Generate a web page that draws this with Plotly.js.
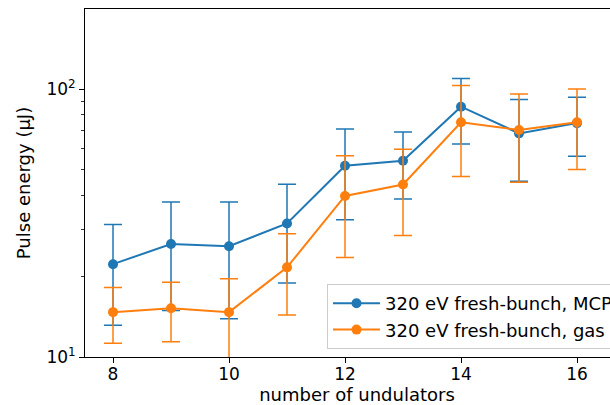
<!DOCTYPE html>
<html>
<head>
<meta charset="utf-8">
<script src="https://cdn.plot.ly/plotly-3.0.1.min.js"></script>
<style>
  html, body { margin: 0; padding: 0; overflow: hidden; background: #fff; }
  #chart { width: 700px; height: 405px; }
</style>
</head>
<body>
<div id="chart"></div>
<script>
// Undulator count on the x axis
const undulators = [8, 9, 10, 11, 12, 13, 14, 15, 16];

// Pulse energy (µJ) measured with the MCP, with its standard deviation
const mcpEnergy = [22.2, 26.4, 25.9, 31.5, 51.7, 54.0, 85.9, 68.3, 74.6];
const mcpError  = [9.05, 11.5, 12.0, 12.6, 19.2, 15.1, 23.5, 23.0, 18.5];

// Pulse energy (µJ) measured with the gas detector, with its standard deviation
const gasEnergy = [14.7, 15.2, 14.7, 21.6, 39.9, 44.0, 75.1, 70.3, 75.1];
const gasError  = [3.45, 3.8, 4.9, 7.25, 16.4, 15.6, 27.9, 25.4, 25.0];

const seriesNames = ['320 eV fresh-bunch, MCP', '320 eV fresh-bunch, gas'];
const xTickVals = [8, 10, 12, 14, 16];
const yTickVals = [10, 100];
const yTickText = ['10<sup>1</sup>', '10<sup>2</sup>'];
const yMinorVals = [20, 30, 40, 50, 60, 70, 80, 90, 200];

const blue = '#1f77b4';
const orange = '#ff7f0e';

function series(x, y, err, name, color) {
  return {
    x: x, y: y, name: name, type: 'scatter', mode: 'lines+markers',
    line: { color: color, width: 2 },
    marker: { color: color, size: 10 },
    error_y: { type: 'data', array: err, visible: true, color: color, thickness: 1.5, width: 9 }
  };
}

const data = [
  series(undulators, mcpEnergy, mcpError, seriesNames[0], blue),
  series(undulators, gasEnergy, gasError, seriesNames[1], orange)
];

const figW = 700, figH = 405;
const padL = 85, padT = 9, plotW = 544, plotH = 348;
const pxPerUnit = 58;
const fontBase = { family: 'DejaVu Sans, sans-serif', size: 18, color: '#000' };
const tickFont = { family: 'DejaVu Sans, sans-serif', size: 17, color: '#000' };

const layout = {
  width: figW, height: figH,
  margin: { l: padL, r: figW - padL - plotW, t: padT, b: figH - padT - plotH },
  paper_bgcolor: '#fff', plot_bgcolor: '#fff',
  font: fontBase,
  showlegend: true,
  xaxis: {
    range: [7.517, 7.517 + plotW / pxPerUnit],
    tickmode: 'array', tickvals: xTickVals, tickfont: tickFont,
    ticks: 'outside', ticklen: 5, tickwidth: 1, tickcolor: '#000',
    ticklabelstandoff: -3,
    showline: true, linecolor: '#000', linewidth: 1, mirror: true,
    showgrid: false, zeroline: false, automargin: false,
    title: { text: 'number of undulators', font: fontBase, standoff: 3 }
  },
  yaxis: {
    type: 'log',
    range: [1, 2.2985],
    tickmode: 'array', tickvals: yTickVals, ticktext: yTickText, tickfont: tickFont,
    ticks: 'outside', ticklen: 5, tickwidth: 1, tickcolor: '#000',
    minor: { tickmode: 'array', tickvals: yMinorVals, ticks: 'outside', ticklen: 3, tickwidth: 0.8, tickcolor: '#000', showgrid: false },
    showline: true, linecolor: '#000', linewidth: 1, mirror: true,
    showgrid: false, zeroline: false, automargin: false,
    title: { text: 'Pulse energy (μJ)', font: fontBase, standoff: 11 }
  },
  legend: {
    x: (327 - padL) / plotW, xanchor: 'left',
    y: (padT + plotH - 349) / plotH, yanchor: 'bottom',
    bgcolor: 'rgba(255,255,255,0.8)', bordercolor: '#cccccc', borderwidth: 1,
    font: fontBase, itemwidth: 47, tracegroupgap: 0
  }
};

Plotly.newPlot('chart', data, layout, { displayModeBar: false, staticPlot: true });
</script>
</body>
</html>
